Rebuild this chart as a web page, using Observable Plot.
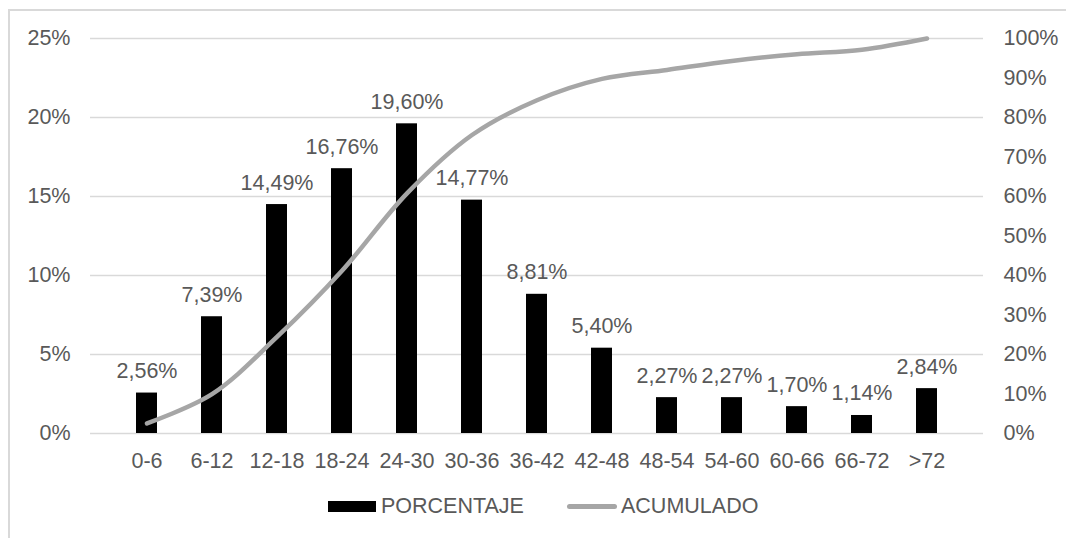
<!DOCTYPE html>
<html>
<head>
<meta charset="utf-8">
<script src="https://cdn.jsdelivr.net/npm/d3@7"></script>
<script src="https://cdn.jsdelivr.net/npm/@observablehq/plot@0.6"></script>
<style>
  html, body { margin: 0; padding: 0; background: #fff; }
  body { width: 1066px; height: 538px; position: relative; overflow: hidden; font-family: "Liberation Sans", Arial, sans-serif; }
  #frame { position: absolute; left: 8px; top: 9px; width: 1100px; height: 600px; border-left: 2px solid #d9d9d9; border-top: 2px solid #d9d9d9; }
  #chart { position: absolute; left: 0; top: 0; }
  #legend { position: absolute; left: 0; top: 492px; width: 1066px; height: 28px; color: #595959; font-size: 21.5px; }
  .item { position: absolute; top: 0; height: 28px; display: flex; align-items: center; }
  .sw { display: inline-block; margin-right: 5px; }
</style>
</head>
<body>
<div id="frame"></div>
<div id="chart"></div>
<div id="legend">
  <div class="item" style="left:328px"><span class="sw" style="width:48px;height:11px;background:#000"></span>PORCENTAJE</div>
  <div class="item" style="left:567px"><span class="sw" style="width:50px;height:5px;background:#a6a6a6;border-radius:3px;margin-right:4px"></span>ACUMULADO</div>
</div>
<script>
const categories = ["0-6","6-12","12-18","18-24","24-30","30-36","36-42","42-48","48-54","54-60","60-66","66-72",">72"];
const porcentaje = [2.56, 7.39, 14.49, 16.76, 19.60, 14.77, 8.81, 5.40, 2.27, 2.27, 1.70, 1.14, 2.84];
const acumulado = [2.56, 9.95, 24.44, 41.20, 60.80, 75.57, 84.38, 89.78, 92.05, 94.32, 96.02, 97.16, 100];
const leftTicks = [0, 5, 10, 15, 20, 25];
const rightTicks = [0, 10, 20, 30, 40, 50, 60, 70, 80, 90, 100];

const data = categories.map((c, i) => ({cat: c, pct: porcentaje[i], cum: acumulado[i]}));
const fmt = v => v.toFixed(2).replace(".", ",") + "%";
const textColor = "#595959";
const fs = 21.5;

const chart = Plot.plot({
  width: 1066,
  height: 480,
  marginLeft: 90,
  marginRight: 83,
  marginTop: 38,
  marginBottom: 47,
  style: {fontFamily: "'Liberation Sans', Arial, sans-serif", fontSize: fs + "px", color: textColor, background: "transparent"},
  x: {domain: categories, padding: 0.68, label: null},
  y: {domain: [0, 25], label: null},
  marks: [
    Plot.ruleY(leftTicks, {stroke: "#d9d9d9", strokeWidth: 1.5}),
    Plot.axisY(leftTicks, {anchor: "left", tickSize: 0, tickPadding: 20, tickFormat: d => d + "%", label: null, fontSize: fs, fill: textColor}),
    Plot.axisY(rightTicks.map(d => d / 4), {anchor: "right", tickSize: 0, tickPadding: 20, tickFormat: d => (d * 4) + "%", label: null, fontSize: fs, fill: textColor}),
    Plot.axisX({tickSize: 0, tickPadding: 19, label: null, fontSize: fs, fill: textColor}),
    Plot.barY(data, {x: "cat", y: "pct", fill: "#000"}),
    Plot.line(data, {x: "cat", y: d => d.cum / 4, stroke: "#a6a6a6", strokeWidth: 4.5, curve: "catmull-rom", strokeLinecap: "round"}),
    Plot.text(data, {x: "cat", y: "pct", text: d => fmt(d.pct), dy: -15, lineAnchor: "bottom", fill: textColor, fontSize: fs})
  ]
});
document.getElementById("chart").appendChild(chart);
</script>
</body>
</html>
